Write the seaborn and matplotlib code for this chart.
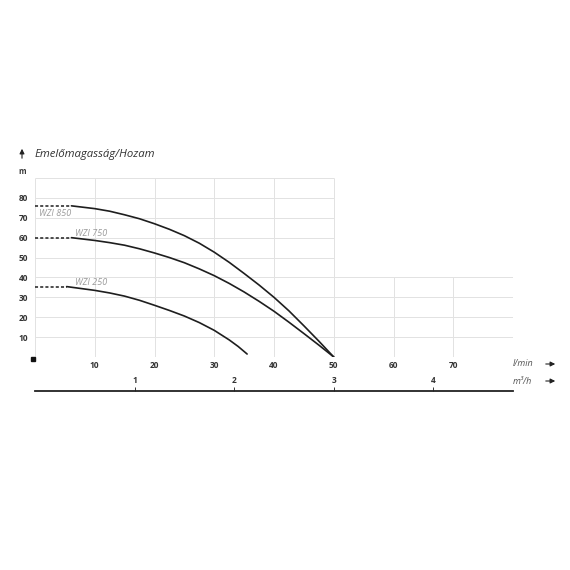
import numpy as np
import pandas as pd
import matplotlib
matplotlib.use("Agg")
import matplotlib.pyplot as plt
import seaborn as sns

# pump curves, flow in l/min, head in m
q_850 = [6.1, 10, 12.5, 15, 17.5, 20, 22.5, 25, 27.5, 30, 32.5, 35, 37.5, 40, 42.5, 45, 47.5, 50]
h_850 = [76, 74.6, 73.3, 71.5, 69.5, 67, 64.2, 61, 57.2, 52.7, 47.6, 42, 36.2, 30, 23.2, 15.7, 8, 0]
q_750 = [6.1, 10, 12.5, 15, 17.5, 20, 22.5, 25, 27.5, 30, 32.5, 35, 37.5, 40, 42.5, 45, 47.5, 50]
h_750 = [60, 58.6, 57.5, 56.2, 54.4, 52.3, 50, 47.4, 44.3, 40.9, 37, 32.7, 28, 23, 17.5, 11.8, 6, 0]
q_250 = [5.3, 10, 12.5, 15, 17.5, 20, 22.5, 25, 27.5, 30, 32.5, 34, 35.5]
h_250 = [35.4, 33.5, 32.2, 30.6, 28.5, 26, 23.4, 20.6, 17.3, 13.4, 8.6, 5.3, 1.5]

names = ["WZI 850", "WZI 750", "WZI 250"]
x_ticks = [10, 20, 30, 40, 50, 60, 70]
y_ticks = [10, 20, 30, 40, 50, 60, 70, 80]
m3h_ticks = [1, 2, 3, 4]

sns.set_theme(style="white")
plt.rcParams["font.family"] = ["Open Sans", "DejaVu Sans"]

W = 570
fig = plt.figure(figsize=(5.7, 5.7), dpi=100)
ax = fig.add_axes([35 / W, 213 / W, 478 / W, 179 / W])
ax.set_xlim(0, 80)
ax.set_ylim(0, 90)
for s in ax.spines.values():
    s.set_visible(False)

# grid: tall block up to 50 l/min, low block beyond
gc = "#e2e2e2"
ax.vlines(range(0, 51, 10), 0, 90, color=gc, lw=0.7, zorder=0)
ax.hlines(range(10, 91, 10), 0, 50, color=gc, lw=0.7, zorder=0)
ax.vlines([60, 70, 80], 0, 40, color=gc, lw=0.7, zorder=0)
ax.hlines([10, 20, 30, 40], 50, 80, color=gc, lw=0.7, zorder=0)
ax.hlines(0, 0, 80, color=gc, lw=0.7, zorder=0)

curves = [(q_850, h_850), (q_750, h_750), (q_250, h_250)]
for (q, h), name in zip(curves, names):
    sns.lineplot(x=q, y=h, ax=ax, color="#1e1e1e", lw=1.2)
    sns.lineplot(x=[0, q[0]], y=[h[0], h[0]], ax=ax, color="#1e1e1e",
                 lw=1.1, linestyle=(0, (2, 1.4)))

lab_style = dict(color="#9a9a9a", fontsize=6.5, style="italic")
ax.text(0.6, 72, names[0], va="center", **lab_style)
ax.text(6.7, 62.3, names[1], va="center", **lab_style)
ax.text(6.7, 37.6, names[2], va="center", **lab_style)

ax.plot(-0.3, -1, marker="s", ms=3, color="#111", clip_on=False)

ax.set_xticks(x_ticks)
ax.set_yticks(y_ticks)
ax.set_xticklabels([str(v) for v in x_ticks], fontweight="bold")
ax.set_yticklabels([str(v) for v in y_ticks], fontweight="bold")
ax.tick_params(axis="both", length=0, labelsize=6, labelcolor="#333333")
ax.tick_params(axis="x", pad=3)
ax.tick_params(axis="y", pad=5)
ax.set_xlabel("")
ax.set_ylabel("")

# m3/h scale line
ax2 = fig.add_axes([35 / W, (W - 391) / W, 478 / W, 0.0001])
ax2.set_xlim(0, 80 * 60 / 1000)
ax2.set_yticks([])
for k in ["top", "left", "right"]:
    ax2.spines[k].set_visible(False)
ax2.spines["bottom"].set_color("#222222")
ax2.spines["bottom"].set_linewidth(1.3)
ax2.xaxis.set_ticks_position("top")
ax2.set_xticks(m3h_ticks)
ax2.set_xticklabels([str(v) for v in m3h_ticks], fontweight="bold")
ax2.tick_params(axis="x", direction="out", length=3, width=0.7, color="#333333",
                labelsize=6, labelcolor="#333333", pad=1)
ax2.patch.set_visible(False)

# titles and unit labels
def fx(px):
    return px / W

def fy(py):
    return (W - py) / W

fig.text(fx(35), fy(155), "Emelőmagasság/Hozam", fontsize=8.2, style="italic",
         color="#333333", va="center")
fig.text(fx(22), fy(172), "m", fontsize=5.5, fontweight="bold", color="#333333",
         ha="center", va="center")
fig.text(fx(513), fy(364), "l/min", fontsize=6.5, style="italic", color="#555555",
         va="center")
fig.text(fx(513), fy(381), "m³/h", fontsize=6.5, style="italic", color="#555555",
         va="center")

arrow = dict(arrowstyle="-|>", color="#222222", lw=0.8, mutation_scale=7)
ax.annotate("", xy=(558, W - 364), xytext=(543, W - 364), xycoords="figure pixels",
            textcoords="figure pixels", arrowprops=arrow)
ax.annotate("", xy=(558, W - 381), xytext=(543, W - 381), xycoords="figure pixels",
            textcoords="figure pixels", arrowprops=arrow)
ax.annotate("", xy=(22, W - 146), xytext=(22, W - 161), xycoords="figure pixels",
            textcoords="figure pixels", arrowprops=arrow)

fig.savefig("out.png", dpi=100, facecolor="white")
